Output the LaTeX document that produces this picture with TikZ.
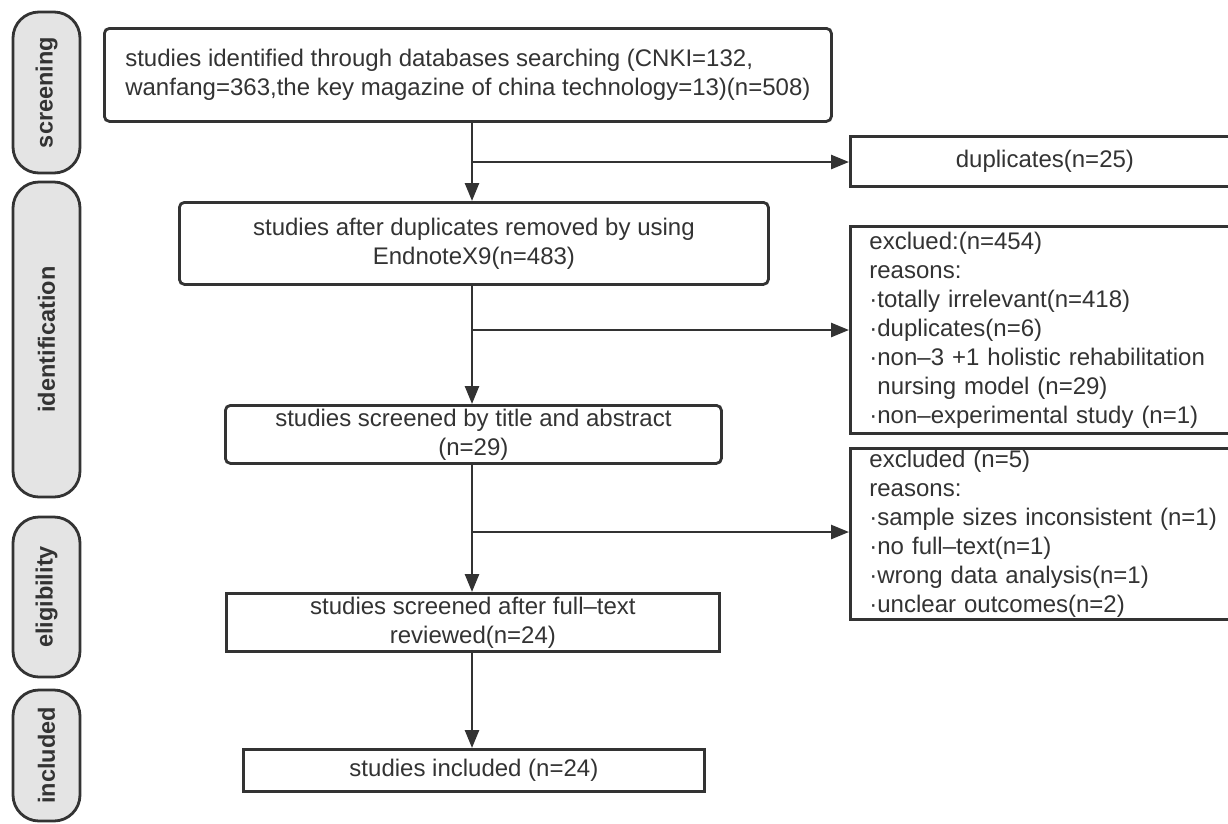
\documentclass[tikz,border=0pt]{standalone}
\usepackage{fontspec}
\setmainfont{Liberation Sans}
\usepackage{tikz}
\usetikzlibrary{arrows.meta,positioning}

\definecolor{inkgray}{HTML}{333333}
\definecolor{pillgray}{HTML}{E4E4E4}

\begin{document}
\begin{tikzpicture}[x=1pt,y=-1pt,
    % node attributes
    every node/.style = {
        text=inkgray,
        font=\fontsize{24}{29}\selectfont},
    box/.style = {
        draw=inkgray,
        line width=2.8pt,
        anchor=north west,
        inner sep=0pt},
    roundbox/.style = {box, rounded corners=5pt},
    sidebox/.style = {box, minimum width=389pt},
    listbox/.style = {sidebox, align=left, text width=351pt, inner xsep=19pt},
    phase/.style = {
        draw=inkgray,
        line width=2.8pt,
        fill=pillgray,
        rounded corners=26pt,
        rotate=90,
        minimum height=67pt,
        inner sep=0pt,
        font=\fontsize{23.5}{28}\selectfont\bfseries},
    arr/.style = {draw=inkgray, line width=2.6pt, -{Triangle[length=18pt,width=14pt]}}]
    \useasboundingbox (0,0) rectangle (1228,823);
    \fill[white] (0,0) rectangle (1228,823);
    \clip (0,0) rectangle (1228,823);

    % phases on the left
    \node[phase, minimum width=161pt] (screening) at (46.5,92.5) {screening};
    \node[phase, minimum width=315pt] (identification) at (46.5,339.5) {identification};
    \node[phase, minimum width=160pt] (eligibility) at (46.5,597) {eligibility};
    \node[phase, minimum width=131pt] (included) at (46.5,755.5) {included};

    % main flow
    \node[roundbox, minimum width=727pt, minimum height=93pt, align=left, inner xsep=18pt]
        (identified) at (103,27)
        {studies identified through databases searching (CNKI=132,\\
         wanfang=363,the key magazine of china technology=13)(n=508)};
    \node[roundbox, minimum width=589pt, minimum height=82pt, align=center]
        (removed) at (178,201)
        {studies after duplicates removed by using\\ EndnoteX9(n=483)};
    \node[roundbox, minimum width=496pt, minimum height=58pt, align=center]
        (screened) at (224,404)
        {studies screened by title and abstract\\ (n=29)};
    \node[box, minimum width=493pt, minimum height=58pt, align=center]
        (fulltext) at (225,592)
        {studies screened after full–text\\ reviewed(n=24)};
    \node[box, minimum width=461pt, minimum height=42pt]
        (final) at (242,748) {studies included (n=24)};

    % exclusions on the right
    \node[sidebox, minimum height=50pt] (dup) at (849,135) {duplicates(n=25)};
    \node[listbox, minimum height=207pt] (excl1) at (849,225)
        {exclued:(n=454)\\
         reasons:\\
         ·totally irrelevant(n=418)\\
         ·duplicates(n=6)\\
         ·non–3 +1 holistic rehabilitation\\
         \hspace*{8pt}nursing model (n=29)\\
         ·non–experimental study (n=1)};
    \node[listbox, minimum height=171pt] (excl2) at (849,447)
        {excluded (n=5)\\
         reasons:\\
         ·sample sizes inconsistent (n=1)\\
         ·no full–text(n=1)\\
         ·wrong data analysis(n=1)\\
         ·unclear outcomes(n=2)};

    % spine and branch points
    \coordinate (split1) at (472,162);
    \coordinate (split2) at (472,330);
    \coordinate (split3) at (472,532);

    \draw[arr] (identified.south -| split1) -- (removed.north -| split1);
    \draw[arr] (removed.south -| split2) -- (screened.north -| split2);
    \draw[arr] (screened.south -| split3) -- (fulltext.north -| split3);
    \draw[arr] (fulltext.south -| split3) -- (final.north -| split3);
    \draw[arr] (split1) -- (dup.west |- split1);
    \draw[arr] (split2) -- (excl1.west |- split2);
    \draw[arr] (split3) -- (excl2.west |- split3);
\end{tikzpicture}
\end{document}
